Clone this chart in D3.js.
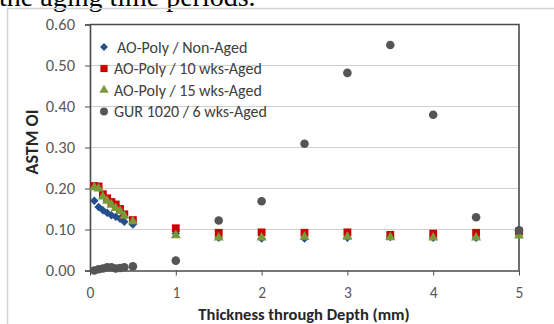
<!DOCTYPE html>
<html>
<head>
<meta charset="utf-8">
<script src="https://cdn.jsdelivr.net/npm/d3@7"></script>
<style>
  body { margin: 0; background: #fff; }
  svg { display: block; }
</style>
</head>
<body>
<div id="chart"></div>
<script>
// data
const depthNear = [0.05, 0.1, 0.15, 0.2, 0.25, 0.3, 0.35, 0.4, 0.5];
const depthFar = [1, 1.5, 2, 2.5, 3, 3.5, 4, 4.5, 5];
const depths = depthNear.concat(depthFar);

const nonAged = [0.170, 0.155, 0.147, 0.141, 0.135, 0.131, 0.126, 0.119, 0.112,
                 0.090, 0.080, 0.078, 0.078, 0.080, 0.082, 0.080, 0.080, 0.090];
const aged10 = [0.206, 0.205, 0.186, 0.176, 0.167, 0.161, 0.150, 0.137, 0.123,
                0.103, 0.092, 0.093, 0.092, 0.093, 0.087, 0.090, 0.092, 0.095];
const aged15 = [0.203, 0.200, 0.180, 0.170, 0.160, 0.152, 0.145, 0.133, 0.120,
                0.086, 0.080, 0.080, 0.082, 0.082, 0.081, 0.080, 0.080, 0.085];
const gur1020 = [0.000, 0.003, 0.005, 0.008, 0.008, 0.005, 0.006, 0.008, 0.010,
                 0.024, 0.122, 0.169, 0.309, 0.482, 0.550, 0.380, 0.130, 0.098];

const seriesNames = ["AO-Poly / Non-Aged", "AO-Poly / 10 wks-Aged",
                     "AO-Poly / 15 wks-Aged", "GUR 1020 / 6 wks-Aged"];
const xTicks = [0, 1, 2, 3, 4, 5];
const yTicks = [0, 0.1, 0.2, 0.3, 0.4, 0.5, 0.6];

const width = 554, height = 324;
const margin = {left: 90, right: 35, top: 24.5, bottom: 53.5};

const svg = d3.select("#chart").append("svg")
  .attr("width", width).attr("height", height);

// cut-off caption line above the chart
svg.append("text")
  .attr("x", -1).attr("y", 6)
  .attr("font-family", "Liberation Serif, serif")
  .attr("font-size", "28px")
  .attr("fill", "#000")
  .text("the aging time periods.");

// chart area border (light grey, runs off the page)
svg.append("rect")
  .attr("x", 7.5).attr("y", 8.5)
  .attr("width", 600).attr("height", 400)
  .attr("fill", "none").attr("stroke", "#d4d4d4").attr("stroke-width", 1.5);

const x = d3.scaleLinear().domain([0, 5]).range([margin.left, width - margin.right]);
const y = d3.scaleLinear().domain([0, 0.6]).range([height - margin.bottom, margin.top]);

// gridlines
svg.append("g")
  .selectAll("line")
  .data(yTicks.slice(1, -1))
  .enter().append("line")
  .attr("x1", x(0)).attr("x2", x(5))
  .attr("y1", d => y(d)).attr("y2", d => y(d))
  .attr("stroke", "#d0d0d0").attr("stroke-width", 1.2);

// plot frame top + right
svg.append("path")
  .attr("d", `M${x(0)},${y(0.6)}H${x(5)}V${y(0)}`)
  .attr("fill", "none").attr("stroke", "#4a4a4a").attr("stroke-width", 1.6);

const font = "Carlito, 'Open Sans', 'Liberation Sans', sans-serif";

// y axis
const yAxis = svg.append("g")
  .attr("transform", `translate(${x(0)},0)`)
  .call(d3.axisLeft(y).tickValues(yTicks).tickFormat(d3.format(".2f")).tickSize(5).tickPadding(10));
yAxis.select(".domain").attr("stroke", "#4a4a4a").attr("stroke-width", 1.6);
yAxis.selectAll(".tick line").attr("stroke", "#4a4a4a");
yAxis.selectAll("text").attr("font-family", font).attr("font-size", "16.5px").attr("fill", "#595959");

// x axis
const xAxis = svg.append("g")
  .attr("transform", `translate(0,${y(0)})`)
  .call(d3.axisBottom(x).tickValues(xTicks).tickFormat(d3.format("d")).tickSize(5).tickSizeOuter(0).tickPadding(11));
xAxis.select(".domain").attr("stroke", "#4a4a4a").attr("stroke-width", 1.6);
xAxis.selectAll(".tick line").attr("stroke", "#4a4a4a");
xAxis.selectAll("text").attr("font-family", font).attr("font-size", "15.5px").attr("fill", "#595959");

// axis titles
svg.append("text")
  .attr("transform", `translate(38,142) rotate(-90)`)
  .attr("text-anchor", "middle")
  .attr("font-family", font).attr("font-size", "18px").attr("font-weight", "bold")
  .attr("fill", "#262626")
  .text("ASTM OI");

svg.append("text")
  .attr("x", 304).attr("y", 320)
  .attr("text-anchor", "middle")
  .attr("font-family", font).attr("font-size", "16.5px").attr("font-weight", "bold")
  .attr("fill", "#262626")
  .text("Thickness through Depth (mm)");

// series
const series = [
  {name: seriesNames[0], values: nonAged, color: "#264f8c", shape: d3.symbolDiamond2, size: 46},
  {name: seriesNames[1], values: aged10, color: "#cc0000", shape: d3.symbolSquare2, size: 78},
  {name: seriesNames[2], values: aged15, color: "#7a9a3a", shape: d3.symbolTriangle2, size: 72},
  {name: seriesNames[3], values: gur1020, color: "#555555", shape: d3.symbolCircle, size: 58}
];

series.forEach(s => {
  svg.append("g")
    .selectAll("path")
    .data(depths.map((d, i) => ({d: d, v: s.values[i]})))
    .enter().append("path")
    .attr("transform", p => `translate(${x(p.d)},${y(p.v)})`)
    .attr("d", d3.symbol().type(s.shape).size(s.size))
    .attr("fill", s.color);
});

// legend
const legend = svg.append("g").attr("transform", "translate(104,47)");
series.forEach((s, i) => {
  const row = legend.append("g").attr("transform", `translate(0,${i * 21.5})`);
  row.append("path")
    .attr("d", d3.symbol().type(s.shape).size(s.size * 0.85))
    .attr("fill", s.color);
  row.append("text")
    .attr("x", i === 0 ? 13 : 10).attr("y", 5.5)
    .attr("font-family", font).attr("font-size", "16px")
    .attr("fill", "#404040")
    .text(s.name);
});
</script>
</body>
</html>
